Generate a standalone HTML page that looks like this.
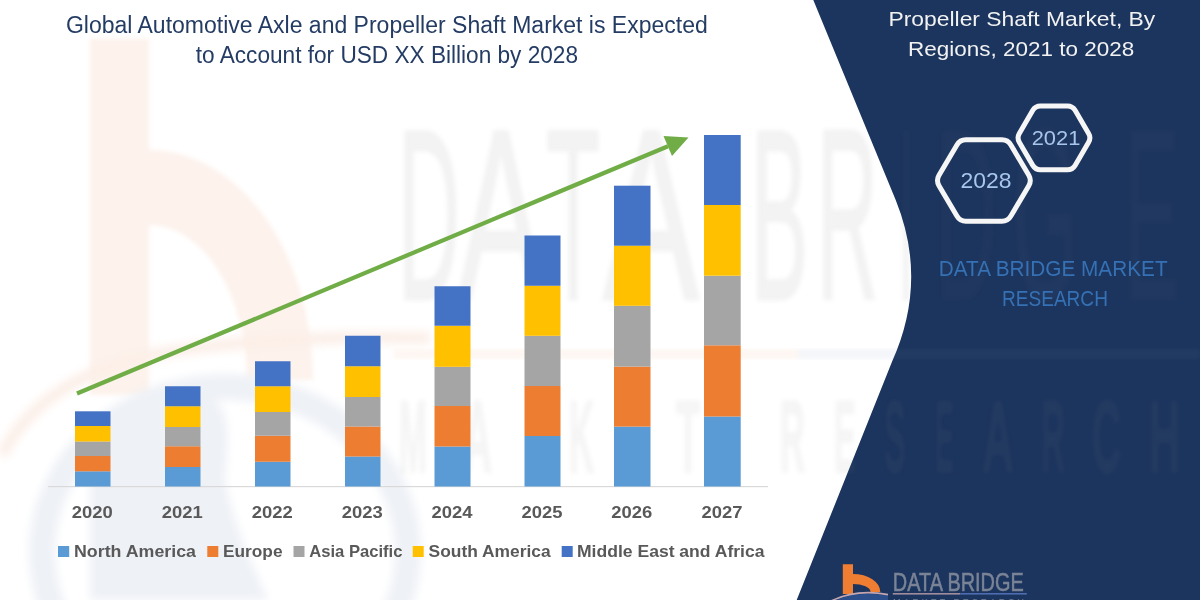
<!DOCTYPE html>
<html><head><meta charset="utf-8">
<style>
html,body{margin:0;padding:0;background:#fff;}
body{width:1200px;height:600px;overflow:hidden;position:relative;font-family:"Liberation Sans",sans-serif;}
svg{position:absolute;left:0;top:0;display:block;will-change:transform;}
text{font-family:"Liberation Sans",sans-serif;}
</style></head><body>
<svg width="1200" height="600" viewBox="0 0 1200 600">
  <defs>
    <filter id="bl2" x="-10%" y="-10%" width="120%" height="120%"><feGaussianBlur stdDeviation="2"/></filter>
    <filter id="bl4" x="-10%" y="-10%" width="120%" height="120%"><feGaussianBlur stdDeviation="4"/></filter>
    <clipPath id="pclip"><path d="M813.3 0 L1200 0 L1200 600 L796.7 600 L891.9 362 Q928.5 281 895.7 200 Z"/></clipPath>
  </defs>
  <!-- watermark b -->
  <path filter="url(#bl2)" fill="#fdf2ec" d="M90 38.7 L149 38.7 L149 150 A164 230 0 0 1 313 380 L247 380 A98 155 0 0 0 149 225 L149 395 L90 395 Z"/>
  <!-- watermark swoosh ring -->
  <g filter="url(#bl4)">
  <ellipse cx="225" cy="552" rx="183" ry="165" fill="none" stroke="#eef1f6" stroke-width="26"/>
  <path fill="#eef1f6" d="M90 600 L90 450 C90 405 150 392 200 395 C 235 400 228 440 225 480 C 235 530 255 570 268 600 Z"/>
  </g>
  <path filter="url(#bl4)" fill="none" stroke="#fcefe8" stroke-width="12" d="M2 455 Q 40 380 150 355 Q 260 335 430 338"/>
  <g id="wm">
  <!-- DATABRIDGE watermark -->
  <g id="wmBig" filter="url(#bl2)" fill="#888" stroke="#888" stroke-width="3" opacity="0.1">
    <text x="398" y="299" font-size="244" textLength="62" lengthAdjust="spacingAndGlyphs">D</text>
    <text x="458" y="299" font-size="244" textLength="86" lengthAdjust="spacingAndGlyphs">A</text>
    <text x="546" y="299" font-size="244" textLength="54" lengthAdjust="spacingAndGlyphs">T</text>
    <text x="603" y="299" font-size="244" textLength="96" lengthAdjust="spacingAndGlyphs">A</text>
    <text x="751" y="299" font-size="244" textLength="57" lengthAdjust="spacingAndGlyphs">B</text>
    <text x="817" y="299" font-size="244" textLength="61" lengthAdjust="spacingAndGlyphs">R</text>
    <text x="898" y="299" font-size="244" textLength="16" lengthAdjust="spacingAndGlyphs">I</text>
    <text x="935" y="299" font-size="244" textLength="62" lengthAdjust="spacingAndGlyphs">D</text>
    <text x="1012" y="299" font-size="244" textLength="66" lengthAdjust="spacingAndGlyphs">G</text>
    <text x="1124" y="299" font-size="244" textLength="56" lengthAdjust="spacingAndGlyphs">E</text>
  </g>
  <g id="wmSmall" filter="url(#bl2)" fill="#888" stroke="#888" stroke-width="2.5" opacity="0.08" font-weight="bold">
    <text x="399" y="472" font-size="102" textLength="28" lengthAdjust="spacingAndGlyphs">M</text>
    <text x="463" y="472" font-size="102" textLength="29" lengthAdjust="spacingAndGlyphs">A</text>
    <text x="527" y="472" font-size="102" textLength="25" lengthAdjust="spacingAndGlyphs">R</text>
    <text x="569" y="472" font-size="102" textLength="25" lengthAdjust="spacingAndGlyphs">K</text>
    <text x="625" y="472" font-size="102" textLength="22" lengthAdjust="spacingAndGlyphs">E</text>
    <text x="676" y="472" font-size="102" textLength="24" lengthAdjust="spacingAndGlyphs">T</text>
    <text x="780" y="472" font-size="102" textLength="25" lengthAdjust="spacingAndGlyphs">R</text>
    <text x="834" y="472" font-size="102" textLength="22" lengthAdjust="spacingAndGlyphs">E</text>
    <text x="884" y="472" font-size="102" textLength="22" lengthAdjust="spacingAndGlyphs">S</text>
    <text x="935" y="472" font-size="102" textLength="19" lengthAdjust="spacingAndGlyphs">E</text>
    <text x="982" y="472" font-size="102" textLength="32" lengthAdjust="spacingAndGlyphs">A</text>
    <text x="1041" y="472" font-size="102" textLength="24" lengthAdjust="spacingAndGlyphs">R</text>
    <text x="1092" y="472" font-size="102" textLength="29" lengthAdjust="spacingAndGlyphs">C</text>
    <text x="1149" y="472" font-size="102" textLength="31" lengthAdjust="spacingAndGlyphs">H</text>
  </g>
    <rect x="394" y="349" width="404" height="10" fill="#f0a070" fill-opacity="0.09" filter="url(#bl2)"/>
    <rect x="798" y="349" width="402" height="10" fill="#7a8cb0" fill-opacity="0.08" filter="url(#bl2)"/>
  </g>
  <path d="M813.3 0 L1200 0 L1200 600 L796.7 600 L891.9 362 Q928.5 281 895.7 200 Z" fill="#1c355e"/>
  <g clip-path="url(#pclip)"><use href="#wmBig" opacity="0.45"/><use href="#wmSmall" opacity="0.9"/><rect x="798" y="349" width="402" height="10" fill="#8a9cc0" fill-opacity="0.06" filter="url(#bl2)"/></g>


  <!-- title -->
  <g fill="#243c64" font-size="23.5">
    <text x="65.9" y="32.6" textLength="641.9" lengthAdjust="spacingAndGlyphs">Global Automotive Axle and Propeller Shaft Market is Expected</text>
    <text x="195.8" y="62.6" textLength="382.2" lengthAdjust="spacingAndGlyphs">to Account for USD XX Billion by 2028</text>
  </g>

  <!-- axis -->
  <rect x="48" y="486" width="720" height="1.2" fill="#d9d9d9"/>

  <!-- bars -->
  <g id="bars">
    <!-- 2020 -->
    <rect x="75" y="471.3" width="35.5" height="15.2" fill="#5b9bd5"/>
    <rect x="75" y="456" width="35.5" height="15.3" fill="#ed7d31"/>
    <rect x="75" y="441.5" width="35.5" height="14.5" fill="#a5a5a5"/>
    <rect x="75" y="426" width="35.5" height="15.5" fill="#ffc000"/>
    <rect x="75" y="411.3" width="35.5" height="14.7" fill="#4472c4"/>
    <!-- 2021 -->
    <rect x="165" y="467" width="35.5" height="19.5" fill="#5b9bd5"/>
    <rect x="165" y="446.25" width="35.5" height="20.75" fill="#ed7d31"/>
    <rect x="165" y="427" width="35.5" height="19.25" fill="#a5a5a5"/>
    <rect x="165" y="406.25" width="35.5" height="20.75" fill="#ffc000"/>
    <rect x="165" y="386.25" width="35.5" height="20" fill="#4472c4"/>
    <!-- 2022 -->
    <rect x="255" y="461.75" width="35.5" height="24.75" fill="#5b9bd5"/>
    <rect x="255" y="435.75" width="35.5" height="26" fill="#ed7d31"/>
    <rect x="255" y="412" width="35.5" height="23.75" fill="#a5a5a5"/>
    <rect x="255" y="386.25" width="35.5" height="25.75" fill="#ffc000"/>
    <rect x="255" y="361.25" width="35.5" height="25" fill="#4472c4"/>
    <!-- 2023 -->
    <rect x="345" y="456.5" width="35.5" height="30" fill="#5b9bd5"/>
    <rect x="345" y="426.5" width="35.5" height="30" fill="#ed7d31"/>
    <rect x="345" y="397" width="35.5" height="29.5" fill="#a5a5a5"/>
    <rect x="345" y="366.25" width="35.5" height="30.75" fill="#ffc000"/>
    <rect x="345" y="335.75" width="35.5" height="30.5" fill="#4472c4"/>
    <!-- 2024 -->
    <rect x="434.5" y="446.5" width="36" height="40" fill="#5b9bd5"/>
    <rect x="434.5" y="406" width="36" height="40.5" fill="#ed7d31"/>
    <rect x="434.5" y="366.8" width="36" height="39.2" fill="#a5a5a5"/>
    <rect x="434.5" y="325.75" width="36" height="41.05" fill="#ffc000"/>
    <rect x="434.5" y="286.25" width="36" height="39.5" fill="#4472c4"/>
    <!-- 2025 -->
    <rect x="524.5" y="436" width="36" height="50.5" fill="#5b9bd5"/>
    <rect x="524.5" y="386" width="36" height="50" fill="#ed7d31"/>
    <rect x="524.5" y="335.8" width="36" height="50.2" fill="#a5a5a5"/>
    <rect x="524.5" y="285.75" width="36" height="50.05" fill="#ffc000"/>
    <rect x="524.5" y="235.5" width="36" height="50.25" fill="#4472c4"/>
    <!-- 2026 -->
    <rect x="614" y="426.6" width="36.5" height="59.9" fill="#5b9bd5"/>
    <rect x="614" y="366.6" width="36.5" height="60" fill="#ed7d31"/>
    <rect x="614" y="305.8" width="36.5" height="60.8" fill="#a5a5a5"/>
    <rect x="614" y="245.7" width="36.5" height="60.1" fill="#ffc000"/>
    <rect x="614" y="185.7" width="36.5" height="60" fill="#4472c4"/>
    <!-- 2027 -->
    <rect x="704" y="416.5" width="36.7" height="70" fill="#5b9bd5"/>
    <rect x="704" y="345.3" width="36.7" height="71.2" fill="#ed7d31"/>
    <rect x="704" y="275.7" width="36.7" height="69.6" fill="#a5a5a5"/>
    <rect x="704" y="205" width="36.7" height="70.7" fill="#ffc000"/>
    <rect x="704" y="135" width="36.7" height="70" fill="#4472c4"/>
  </g>

  <!-- arrow -->
  <line x1="77" y1="393.5" x2="668" y2="146.2" stroke="#70ad47" stroke-width="4.2"/>
  <polygon points="688.5,137.5 663.5,136 672,156" fill="#70ad47"/>

  <!-- year labels -->
  <g fill="#595959" font-size="17" font-weight="bold" text-anchor="middle">
    <text x="92.25" y="518.3" textLength="41" lengthAdjust="spacingAndGlyphs">2020</text>
    <text x="182.25" y="518.3" textLength="41" lengthAdjust="spacingAndGlyphs">2021</text>
    <text x="272.25" y="518.3" textLength="41" lengthAdjust="spacingAndGlyphs">2022</text>
    <text x="362.25" y="518.3" textLength="41" lengthAdjust="spacingAndGlyphs">2023</text>
    <text x="452.0" y="518.3" textLength="41" lengthAdjust="spacingAndGlyphs">2024</text>
    <text x="542.0" y="518.3" textLength="41" lengthAdjust="spacingAndGlyphs">2025</text>
    <text x="631.75" y="518.3" textLength="41" lengthAdjust="spacingAndGlyphs">2026</text>
    <text x="721.9" y="518.3" textLength="41" lengthAdjust="spacingAndGlyphs">2027</text>
  </g>

  <!-- legend -->
  <rect x="58" y="546" width="11.2" height="11" fill="#5b9bd5"/>
  <rect x="207.3" y="546" width="11" height="11" fill="#ed7d31"/>
  <rect x="293.5" y="546" width="11" height="11" fill="#a5a5a5"/>
  <rect x="412.7" y="546" width="11" height="11" fill="#ffc000"/>
  <rect x="561.7" y="546" width="11" height="11" fill="#4472c4"/>
  <g fill="#595959" font-size="17" font-weight="bold">
    <text x="74" y="556.7" textLength="122" lengthAdjust="spacingAndGlyphs">North America</text>
    <text x="223" y="556.7" textLength="59.5" lengthAdjust="spacingAndGlyphs">Europe</text>
    <text x="309.2" y="556.7" textLength="93.3" lengthAdjust="spacingAndGlyphs">Asia Pacific</text>
    <text x="428.6" y="556.7" textLength="122" lengthAdjust="spacingAndGlyphs">South America</text>
    <text x="577" y="556.7" textLength="187.5" lengthAdjust="spacingAndGlyphs">Middle East and Africa</text>
  </g>

  <!-- right panel text -->
  <g fill="#f2f2f2" font-size="21">
    <text x="888.5" y="26.1" textLength="266.8" lengthAdjust="spacingAndGlyphs">Propeller Shaft Market, By</text>
    <text x="908" y="56" textLength="226.2" lengthAdjust="spacingAndGlyphs">Regions, 2021 to 2028</text>
  </g>

  <!-- hexagons -->
  <g fill="none" stroke="#f6f6f6" stroke-width="5" stroke-linejoin="round">
    <path d="M1019.3 142.2 Q1016.8 137.8 1019.3 133.5 L1032.8 110.3 Q1035.4 106.0 1040.4 106.0 L1067.5 106.0 Q1072.5 106.0 1075.1 110.3 L1088.6 133.5 Q1091.2 137.8 1088.6 142.2 L1075.1 165.4 Q1072.5 169.7 1067.5 169.7 L1040.4 169.7 Q1035.4 169.7 1032.8 165.4 Z"/>
    <path d="M939.0 185.7 Q936.0 180.5 939.0 175.3 L956.9 145.0 Q959.9 139.8 965.9 139.8 L1001.9 139.8 Q1007.9 139.8 1010.9 145.0 L1028.8 175.3 Q1031.8 180.5 1028.8 185.7 L1010.9 216.0 Q1007.9 221.2 1001.9 221.2 L965.9 221.2 Q959.9 221.2 956.9 216.0 Z"/>
  </g>
  <g fill="#a8c6ec" font-size="21">
    <text x="1031.7" y="145" textLength="48.6" lengthAdjust="spacingAndGlyphs">2021</text>
    <text x="960.4" y="188.4" textLength="51" lengthAdjust="spacingAndGlyphs" font-size="22">2028</text>
  </g>

  <g fill="#3571b4" font-size="22">
    <text x="938.8" y="275.6" textLength="228.8" lengthAdjust="spacingAndGlyphs">DATA BRIDGE MARKET</text>
    <text x="1002" y="305.7" textLength="105.9" lengthAdjust="spacingAndGlyphs">RESEARCH</text>
  </g>

  <!-- bottom logo -->
  <path fill="#ef7d32" d="M842.8 564.3 L853 564.3 L853 574 A27.3 18 0 0 1 880.3 592 L870.5 592 A17.5 8.1 0 0 0 853 583.9 L853 594 L842.8 594 Z"/>
  <path fill="#2c4f8c" d="M834 601 Q858 590 888 595.5 L888 601 Z"/>
  <path fill="none" stroke="#c4a6b2" stroke-width="1.6" d="M830 601.5 Q856 588.5 888 594.6"/>
  <text x="892.8" y="590.8" font-size="25" textLength="131" lengthAdjust="spacingAndGlyphs" fill="#7b8396" stroke="#7b8396" stroke-width="0.5">DATA BRIDGE</text>
  <rect x="892.8" y="593" width="67.5" height="1.6" fill="#a08c9c"/>
  <rect x="960.3" y="593" width="66.5" height="1.6" fill="#4d6db0"/>
  <text x="893" y="604.8" font-size="9" textLength="131" lengthAdjust="spacing" fill="#7b8396">MARKET RESEARCH</text>
</svg>
</body></html>
